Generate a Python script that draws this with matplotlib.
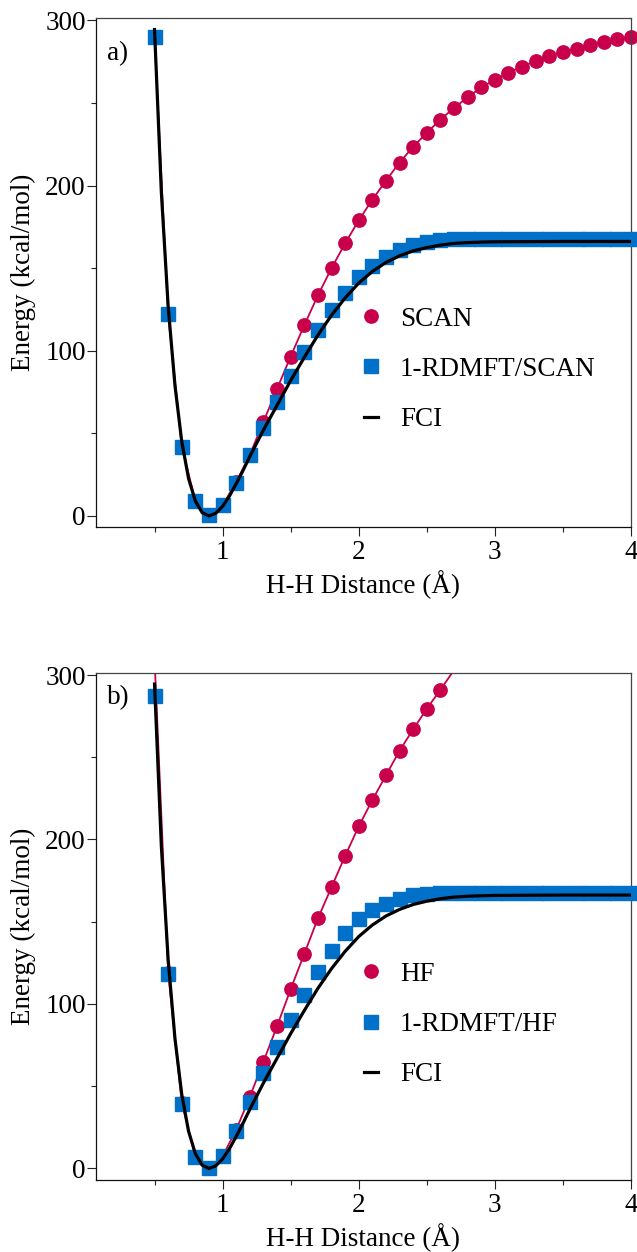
import matplotlib
matplotlib.use('Agg')
import matplotlib.pyplot as plt
from matplotlib.lines import Line2D
from matplotlib.ticker import MultipleLocator

plt.rcParams['font.family'] = ['Liberation Serif', 'DejaVu Serif']
plt.rcParams['font.size'] = 19.5

# H-H distance grid of the computed points (Angstrom)
dist = [0.5, 0.6, 0.7, 0.8, 0.9, 1.0, 1.1, 1.2, 1.3, 1.4, 1.5, 1.6, 1.7, 1.8,
        1.9, 2.0, 2.1, 2.2, 2.3, 2.4, 2.5, 2.6, 2.7, 2.8, 2.9, 3.0, 3.1, 3.2,
        3.3, 3.4, 3.5, 3.6, 3.7, 3.8, 3.9, 4.0]

# panel a
scan = [290, 122, 42, 9, 0.5, 6.5, 20.5, 37, 57, 77, 96.5, 115.5, 133.5, 150,
        165, 179, 191.5, 203, 214, 223.5, 232, 240, 247, 253.5, 259.5, 264,
        268.5, 272, 275.5, 278.5, 281, 283, 285, 287, 288.5, 290]
rdm_scan = [290, 122, 42, 9, 0.5, 6.5, 20, 37, 53.5, 69, 84.5, 99, 112.5, 124.5,
            135, 144.5, 151.5, 157, 161, 164, 166, 167, 167.5, 167.5, 167.5,
            167.5, 167.5, 167.5, 167.5, 167.5, 167.5, 167.5, 167.5, 167.5,
            167.5, 167.5]

# panel b
hf_dist = [0.5, 0.6, 0.7, 0.8, 0.9, 1.0, 1.1, 1.2, 1.3, 1.4, 1.5, 1.6, 1.7,
           1.8, 1.9, 2.0, 2.1, 2.2, 2.3, 2.4, 2.5, 2.6, 2.7]
hf = [310, 119, 40, 7, 0, 7.5, 23.5, 43.5, 65, 86.5, 109, 130.5, 152, 171,
      190, 208, 224, 239, 254, 267, 279.5, 291, 303]
rdm_hf = [287, 118, 39, 7, 0, 7.5, 23, 40.5, 58, 74, 90, 105.5, 119.5, 132,
          143, 151.5, 157, 161, 164, 166, 167, 167.5, 167.5, 167.5, 167.5,
          167.5, 167.5, 167.5, 167.5, 167.5, 167.5, 167.5, 167.5, 167.5,
          167.5, 167.5]

# FCI reference curve (both panels)
fci_dist = [0.5, 0.55, 0.6, 0.65, 0.7, 0.75, 0.8, 0.85, 0.9, 0.95, 1.0, 1.05,
            1.1, 1.15, 1.2, 1.3, 1.4, 1.5, 1.6, 1.7, 1.8, 1.9, 2.0, 2.1, 2.2,
            2.3, 2.4, 2.5, 2.6, 2.7, 2.8, 2.9, 3.0, 3.25, 3.5, 3.75, 4.0]
fci = [294.5, 196, 127, 79, 45, 22.6, 9, 2, 0, 1.6, 5.8, 12, 19.5, 27.5, 36,
       52, 67, 82, 96, 109.5, 121.5, 132, 141, 148, 153.5, 157.5, 160.5, 162.5,
       164, 165, 165.5, 165.8, 166, 166.1, 166.2, 166.2, 166.2]

red = '#C8004B'
blue = '#0070C8'

fig = plt.figure(figsize=(6.37, 12.52), dpi=100)
W, H = 637.0, 1252.0
ax_a = fig.add_axes([96 / W, 1 - 527 / H, 535 / W, 509 / H])
ax_b = fig.add_axes([96 / W, 1 - 1180 / H, 535 / W, 507.3 / H])


def draw(ax, xr, yr, name, xb, yb, clip_red, ylim, tag, tag_y, leg_y):
    # points above the plot range get no marker (only the line leaves the box)
    shown = [i for i, v in enumerate(yr) if v <= ylim[1]]
    ax.plot(xr, yr, color=red, lw=1.3, marker='o', ms=9.6, clip_on=clip_red,
            markevery=shown, zorder=2)
    ax.plot(xb, yb, color=blue, ls='none', marker='s', ms=9.8, clip_on=False,
            zorder=3)
    ax.plot(fci_dist, fci, color='black', lw=2.3, zorder=4)

    ax.set_xlim(0.07, 4.0)
    ax.set_ylim(*ylim)
    ax.xaxis.set_major_locator(MultipleLocator(1))
    ax.xaxis.set_minor_locator(MultipleLocator(0.5))
    ax.yaxis.set_major_locator(MultipleLocator(100))
    ax.yaxis.set_minor_locator(MultipleLocator(50))
    ax.tick_params(which='both', direction='out', width=0.8, color='#222222')
    ax.tick_params(which='major', length=6.3)
    ax.tick_params(which='minor', length=3.5)
    ax.tick_params(axis='y', pad=1)
    ax.tick_params(axis='x', pad=3)
    for s in ['left', 'bottom']:
        ax.spines[s].set_linewidth(0.9)
        ax.spines[s].set_color('#111111')
    for s in ['top', 'right']:
        ax.spines[s].set_linewidth(0.9)
        ax.spines[s].set_color('#444444')

    ax.set_xlabel('H-H Distance (Å)', labelpad=4)
    ax.set_ylabel('Energy (kcal/mol)', labelpad=7)
    ax.text(0.021, tag_y, tag, transform=ax.transAxes, ha='left', va='top')

    handles = [
        Line2D([], [], color=red, ls='none', marker='o', ms=9.6),
        Line2D([], [], color=blue, ls='none', marker='s', ms=9.8),
        Line2D([], [], color='black', lw=2.3),
    ]
    ax.legend(handles, [name, '1-RDMFT/' + name, 'FCI'], loc='upper left',
              bbox_to_anchor=(0.5, leg_y), frameon=False, borderpad=0,
              borderaxespad=0, handlelength=0.55, handletextpad=0.8,
              labelspacing=0.93)


draw(ax_a, dist, scan, 'SCAN', dist, rdm_scan, False, (-6.7, 301.5), 'a)',
     0.955, 0.4328)
draw(ax_b, hf_dist, hf, 'HF', dist, rdm_hf, True, (-7.0, 301.4), 'b)',
     0.975, 0.430)

fig.savefig('out.png', dpi=100)
